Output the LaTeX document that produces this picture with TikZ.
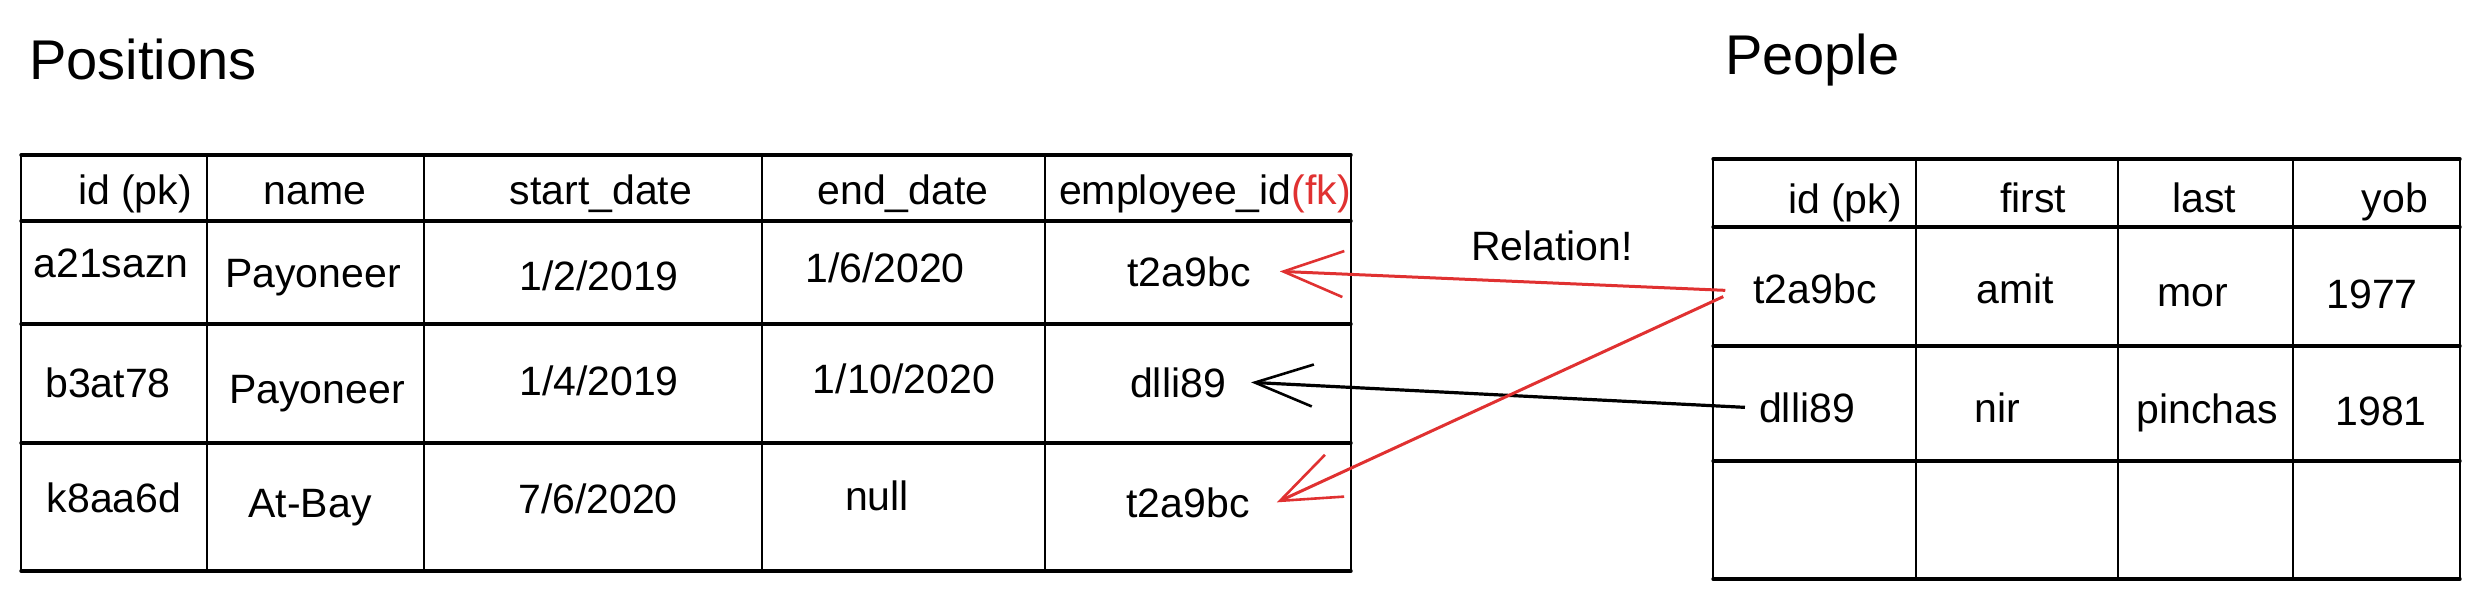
\documentclass[tikz,border=0pt]{standalone}
\usepackage{fontspec}
\setmainfont{Liberation Sans}
\usetikzlibrary{arrows.meta}
\definecolor{exred}{HTML}{E03131}
\begin{document}
\begin{tikzpicture}[x=1pt,y=-1pt,
  cell/.style={anchor=base,inner sep=0pt,font=\fontsize{41}{48}\selectfont},
  title/.style={anchor=base west,inner sep=0pt,font=\fontsize{56}{64}\selectfont},
  hline/.style={line width=3.4pt,line cap=round},
  vline/.style={line width=2.4pt,line cap=round},
  redlink/.style={draw=exred,line width=3pt,-{Straight Barb[length=60pt,width=46pt,line width=2.6pt]}},
  blacklink/.style={draw=black,line width=3.2pt,-{Straight Barb[length=58pt,width=42pt,line width=2.6pt]}},
]
\useasboundingbox (0,0) rectangle (2486,603);

% titles
\node[title] (tpos) at (29,79) {Positions};
\node[title] (tpeo) at (1725,74) {People};

% left table grid
\foreach \y in {155,221,324,443,571} \draw[hline] (21,\y) -- (1351,\y);
\foreach \x in {21,207,424,762,1045,1351} \draw[vline] (\x,155) -- (\x,571);

% right table grid
\foreach \y in {159,227,346,461,579} \draw[hline] (1713,\y) -- (2460,\y);
\foreach \x in {1713,1916,2118,2293,2460} \draw[vline] (\x,159) -- (\x,579);

% left header
\node[cell] (lh1) at (135,204) {id (pk)};
\node[cell] (lh2) at (315,204) {name};
\node[cell] (lh3) at (601,204) {start\_date};
\node[cell] (lh4) at (903,204) {end\_date};
\node[cell] (lh5) at (1205,204) {employee\_id\textcolor{exred}{(fk)}};

% left rows
\node[cell] (la1) at (111,277) {a21sazn};
\node[cell] (lb1) at (313,287) {Payoneer};
\node[cell] (lc1) at (599,290) {1/2/2019};
\node[cell] (ld1) at (885,282) {1/6/2020};
\node[cell] (le1) at (1189,286) {t2a9bc};

\node[cell] (la2) at (108,397) {b3at78};
\node[cell] (lb2) at (317,403) {Payoneer};
\node[cell] (lc2) at (599,395) {1/4/2019};
\node[cell] (ld2) at (904,393) {1/10/2020};
\node[cell] (le2) at (1178,397) {dlli89};

\node[cell] (la3) at (114,512) {k8aa6d};
\node[cell] (lb3) at (310,517) {At-Bay};
\node[cell] (lc3) at (598,513) {7/6/2020};
\node[cell] (ld3) at (877,510) {null};
\node[cell] (le3) at (1188,517) {t2a9bc};

% right header
\node[cell] (rh1) at (1845,213) {id (pk)};
\node[cell] (rh2) at (2033,212) {first};
\node[cell] (rh3) at (2204,212) {last};
\node[cell] (rh4) at (2395,212) {yob};

% right rows
\node[cell] (ra1) at (1815,303) {t2a9bc};
\node[cell] (rb1) at (2015,303) {amit};
\node[cell] (rc1) at (2193,306) {mor};
\node[cell] (rd1) at (2372,308) {1977};

\node[cell] (ra2) at (1807,422) {dlli89};
\node[cell] (rb2) at (1997,422) {nir};
\node[cell] (rc2) at (2207,423) {pinchas};
\node[cell] (rd2) at (2381,425) {1981};

% relation label
\node[cell] (rel) at (1552,260) {Relation!};

% connectors
\draw[redlink] ([xshift=-28pt,yshift=-2pt]ra1.west) -- ([xshift=29pt]le1.east);
\draw[blacklink] ([xshift=-14pt]ra2.west) -- ([xshift=25pt]le2.east);
\draw[redlink] ([xshift=-30pt,yshift=7pt]ra1.south west) -- ([xshift=27pt]le3.east);
\end{tikzpicture}
\end{document}
